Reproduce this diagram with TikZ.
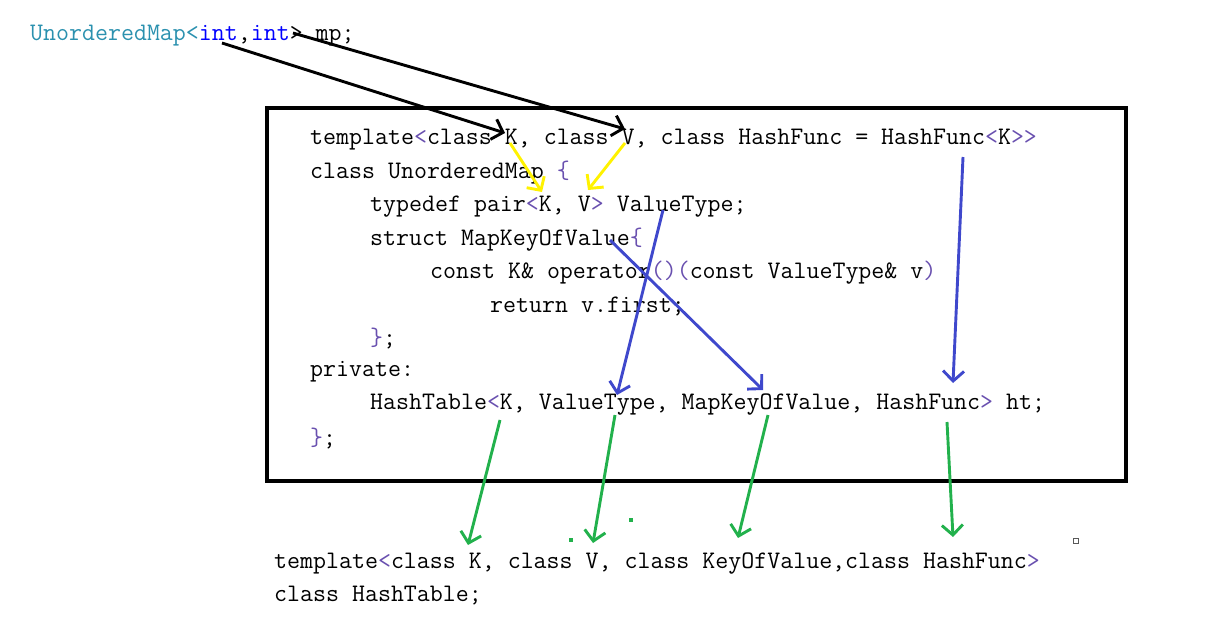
\documentclass[tikz,border=0pt]{standalone}
\usepackage{fontspec}
\usepackage{tikz}
\usetikzlibrary{arrows.meta}

\definecolor{typec}{RGB}{43,145,175}
\definecolor{keyc}{RGB}{0,0,255}
\definecolor{brc}{RGB}{105,80,175}
\definecolor{penblue}{RGB}{63,72,204}
\definecolor{pengreen}{RGB}{34,177,76}
\definecolor{penyellow}{RGB}{255,242,0}
\newcommand{\bk}[1]{\textcolor{brc}{#1}}

\begin{document}
\begin{tikzpicture}[x=1pt, y=-1pt,
        code/.style={anchor=west, inner sep=0pt, font=\fontsize{25.2}{33}\selectfont\ttfamily},
        pen/.style={line width=2.9pt, -{Straight Barb[length=10pt,width=21pt]}}]
        \useasboundingbox (0,0) rectangle (1220,632);

        % instantiation
        \node[code] (inst) at (30,36) {\textcolor{typec}{UnorderedMap<}\textcolor{keyc}{int},\textcolor{keyc}{int}> mp;};

        % UnorderedMap frame
        \draw[line width=4pt] (267,108) rectangle (1126,481);
        \node[code] (l0) at (310,140) {template\bk{<}class K, class V, class HashFunc = HashFunc\bk{<}K\bk{>>}};
        \node[code] (l1) at (310,173) {class UnorderedMap \bk{\{}};
        \node[code] (l2) at (370,207) {typedef pair\bk{<}K, V\bk{>} ValueType;};
        \node[code] (l3) at (370,240) {struct MapKeyOfValue\bk{\{}};
        \node[code] (l4) at (430,273) {const K\& operator\bk{()(}const ValueType\& v\bk{)}};
        \node[code] (l5) at (490,306) {return v.first;};
        \node[code] (l6) at (370,339) {\bk{\}};};
        \node[code] (l7) at (310,372) {private:};
        \node[code] (l8) at (370,405) {HashTable\bk{<}K, ValueType, MapKeyOfValue, HashFunc\bk{>} ht;};
        \node[code] (l9) at (310,438) {\bk{\}};};

        % HashTable declaration
        \node[code] (h0) at (274,564) {template\bk{<}class K, class V, class KeyOfValue,class HashFunc\bk{>}};
        \node[code] (h1) at (274,596) {class HashTable;};

        % arrow ends
        \coordinate (intA) at (222,43);
        \coordinate (intB) at (293,33);
        \coordinate (tK) at (505,133);
        \coordinate (tV) at (625,129);
        \coordinate (kA) at (510,143);
        \coordinate (vA) at (625,143);
        \coordinate (pK) at (542,192);
        \coordinate (pV) at (588,190);
        \coordinate (hfA) at (963,157);
        \coordinate (vtA) at (663,210);
        \coordinate (mkA) at (610,240);
        \coordinate (htVT) at (617,395);
        \coordinate (htMK) at (763,390);
        \coordinate (htHF) at (953,383);
        \coordinate (gK) at (500,420);
        \coordinate (gV) at (615,415);
        \coordinate (gM) at (768,415);
        \coordinate (gH) at (947,422);
        \coordinate (bK) at (468,545);
        \coordinate (bV) at (593,543);
        \coordinate (bM) at (738,538);
        \coordinate (bH) at (953,537);

        \draw[pen, black] (intA) -- (tK);
        \draw[pen, black] (intB) -- (tV);

        \draw[pen, penyellow] (kA) -- (pK);
        \draw[pen, penyellow] (vA) -- (pV);

        \draw[pen, penblue] (hfA) -- (htHF);
        \draw[pen, penblue] (vtA) -- (htVT);
        \draw[pen, penblue] (mkA) -- (htMK);

        \foreach \a/\b in {gK/bK, gV/bV, gM/bM, gH/bH}
            \draw[pen, pengreen] (\a) -- (\b);

        % stray marks
        \fill[pengreen] (569,538) rectangle (573,542);
        \fill[pengreen] (629,518) rectangle (633,522);
        \draw[gray!70!black, line width=1pt] (1073,538) rectangle (1078,543);
    \end{tikzpicture}
\end{document}
